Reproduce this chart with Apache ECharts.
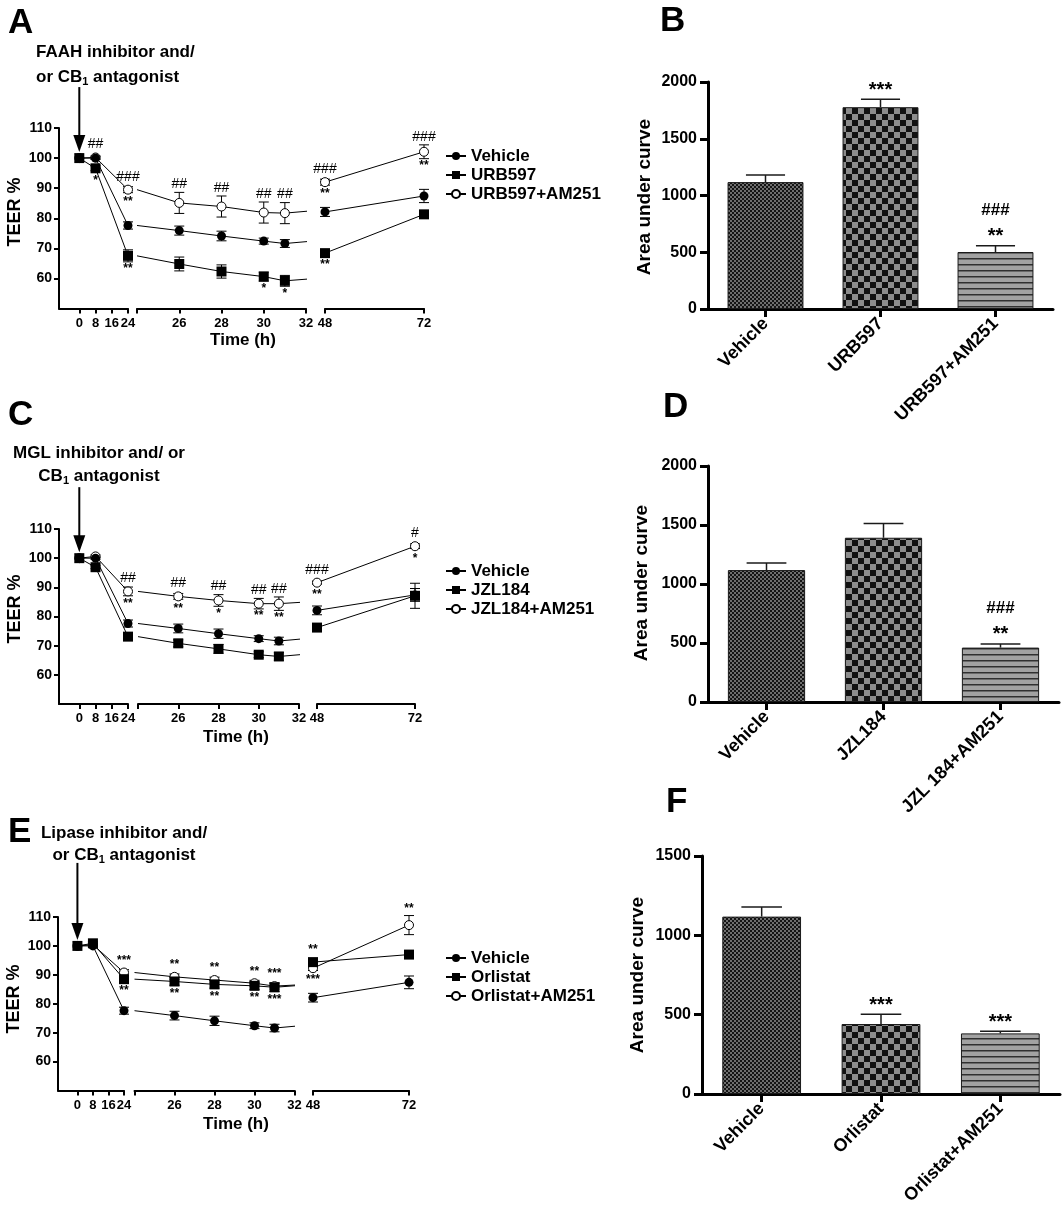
<!DOCTYPE html>
<html>
<head>
<meta charset="utf-8">
<script src="https://cdn.jsdelivr.net/npm/echarts@6.0.0/dist/echarts.min.js"></script>
<style>
html,body{margin:0;padding:0;background:#fff;}
#chart{width:1063px;height:1209px;}
</style>
</head>
<body>
<div id="chart"></div>
<script>
// ================= DATA =================
const hours = [0, 8, 24, 26, 28, 30, 31, 48, 72];

const vehicleTEER = [100, 100, 77.6, 75.9, 74.1, 72.4, 71.6, 82.1, 87.4];
const vehicleErr  = [0, 0.4, 1.2, 1.5, 1.6, 1.0, 1.3, 1.5, 2.2];

// Panel A
const namesA = ['Vehicle', 'URB597', 'URB597+AM251'];
const urb597TEER = [100, 96.6, 67.5, 64.8, 62.3, 60.6, 59.2, 68.4, 81.3];
const urb597Err  = [0, 0.8, 2.0, 2.3, 2.2, 1.5, 1.8, 0.6, 0.6];
const urb597Am251TEER = [100, 100.2, 89.5, 85.1, 83.9, 81.9, 81.7, 92.0, 102.1];
const urb597Am251Err  = [0, 0.5, 1.0, 3.5, 3.5, 3.5, 3.5, 1.0, 2.3];
const annotA = [
  [8, 2, 'up', '##'], [8, 1, 'down', '*'],
  [24, 2, 'up', '###'], [24, 2, 'down', '**'], [24, 1, 'down', '**'],
  [26, 2, 'up', '##'], [28, 2, 'up', '##'], [30, 2, 'up', '##'], [31, 2, 'up', '##'],
  [30, 1, 'down', '*'], [31, 1, 'down', '*'],
  [48, 2, 'up', '###'], [48, 2, 'down', '**'], [48, 1, 'down', '**'],
  [72, 2, 'up', '###'], [72, 2, 'down', '**']
];

// Panel C
const namesC = ['Vehicle', 'JZL184', 'JZL184+AM251'];
const jzl184TEER = [100, 96.9, 73.1, 70.8, 68.9, 66.9, 66.3, 76.2, 87.1];
const jzl184Err  = [0, 0.5, 1.0, 1.2, 1.5, 1.0, 1.3, 1.3, 4.3];
const jzl184Am251TEER = [100, 100.6, 88.6, 86.9, 85.5, 84.4, 84.4, 91.6, 104.1];
const jzl184Am251Err  = [0, 0.5, 1.5, 1.0, 2.0, 1.8, 2.3, 0.5, 0.8];
const annotC = [
  [24, 2, 'up', '##'], [24, 2, 'down', '**'],
  [26, 2, 'up', '##'], [26, 2, 'down', '**'],
  [28, 2, 'up', '##'], [28, 2, 'down', '*'],
  [30, 2, 'up', '##'], [30, 2, 'down', '**'],
  [31, 2, 'up', '##'], [31, 2, 'down', '**'],
  [48, 2, 'up', '###'], [48, 2, 'down', '**'],
  [72, 2, 'up', '#'], [72, 2, 'down', '*']
];

// Panel E
const namesE = ['Vehicle', 'Orlistat', 'Orlistat+AM251'];
const orlistatTEER = [100, 100.9, 88.5, 87.7, 86.7, 86.2, 85.7, 94.4, 97.0];
const orlistatErr  = [0, 0.5, 1.2, 1.3, 1.3, 1.3, 1.5, 1.0, 1.0];
const orlistatAm251TEER = [100, 100.4, 90.8, 89.3, 88.2, 87.1, 86.1, 92.3, 107.2];
const orlistatAm251Err  = [0, 0.5, 1.0, 1.0, 1.0, 1.0, 1.0, 0.8, 3.3];
const annotE = [
  [24, 2, 'up', '***'], [24, 1, 'down', '**'],
  [26, 2, 'up', '**'], [26, 1, 'down', '**'],
  [28, 2, 'up', '**'], [28, 1, 'down', '**'],
  [30, 2, 'up', '**'], [30, 1, 'down', '**'],
  [31, 2, 'up', '***'], [31, 1, 'down', '***'],
  [48, 1, 'up', '**'], [48, 2, 'down', '***'],
  [72, 2, 'up', '**']
];

// Tick values
const teerTicks = [60, 70, 80, 90, 100, 110];
const segTicks  = [[0, 8, 16, 24], [24, 26, 28, 30, 32], [48, 72]];
const segLabels = [[0, 8, 16, 24], [26, 28, 30, 32], [48, 72]];

// Bar panels (area under curve)
const catsB = ['Vehicle', 'URB597', 'URB597+AM251'];
const aucB = [1118, 1778, 502];
const aucErrB = [62, 70, 55];
const starsB = ['', '***', '**'];
const hashB = ['', '', '###'];

const catsD = ['Vehicle', 'JZL184', 'JZL 184+AM251'];
const aucD = [1118, 1392, 461];
const aucErrD = [60, 121, 31];
const starsD = ['', '', '**'];
const hashD = ['', '', '###'];

const catsF = ['Vehicle', 'Orlistat', 'Orlistat+AM251'];
const aucF = [1118, 441, 382];
const aucErrF = [60, 61, 13];
const starsF = ['', '***', '***'];
const hashF = ['', '', ''];

// ================= BUILD =================
const FONT = '"Liberation Sans", Arial, Helvetica, sans-serif';
const grids = [], xAxes = [], yAxes = [], series = [], legends = [], graphics = [];

function makePattern(kind) {
  const c = document.createElement('canvas');
  const g = c.getContext('2d');
  if (kind === 'fine') {
    c.width = 4; c.height = 4;
    g.fillStyle = '#6e6e6e'; g.fillRect(0, 0, 4, 4);
    g.fillStyle = '#141414'; g.fillRect(0, 0, 2, 2); g.fillRect(2, 2, 2, 2);
  } else if (kind === 'coarse') {
    c.width = 12; c.height = 12;
    g.fillStyle = '#8c8c8c'; g.fillRect(0, 0, 12, 12);
    g.fillStyle = '#111'; g.fillRect(0, 0, 6, 6); g.fillRect(6, 6, 6, 6);
  } else {
    c.width = 8; c.height = 6;
    g.fillStyle = '#a2a2a2'; g.fillRect(0, 0, 8, 6);
    g.fillStyle = '#303030'; g.fillRect(0, 0, 8, 1.5);
  }
  return { image: c, repeat: 'repeat' };
}
const PATTERNS = [makePattern('fine'), makePattern('coarse'), makePattern('stripe')];

const SEG_RANGE = [[-10, 24], [24, 32], [48, 72]];
const STYLE = [
  { symbol: 'circle', symbolSize: 9, itemStyle: { color: '#000' }, z: 4 },
  { symbol: 'rect', symbolSize: 10, itemStyle: { color: '#000' }, z: 5 },
  { symbol: 'circle', symbolSize: 9, itemStyle: { color: '#fff', borderColor: '#000', borderWidth: 1 }, z: 3 }
];
function segOf(h) { return h <= 24 ? 0 : (h < 48 ? 1 : 2); }

function textEl(text, x, y, size, extra) {
  return Object.assign({
    type: 'text', x: x, y: y, silent: true,
    style: {
      text: text, fill: '#000', fontSize: size, fontWeight: 'bold', fontFamily: FONT,
      align: 'left', verticalAlign: 'middle', textAlign: 'left', textVerticalAlign: 'middle'
    }
  }, extra || {});
}
function setAlign(el, a) { el.style.align = a; el.style.textAlign = a; return el; }

function lineErrRender(params, api) {
  const x = api.value(0);
  const lo = api.coord([x, api.value(1)]);
  const hi = api.coord([x, api.value(2)]);
  const w = 5, st = { stroke: '#000', lineWidth: 1 };
  return { type: 'group', children: [
    { type: 'line', shape: { x1: lo[0], y1: lo[1], x2: hi[0], y2: hi[1] }, style: st },
    { type: 'line', shape: { x1: lo[0] - w, y1: lo[1], x2: lo[0] + w, y2: lo[1] }, style: st },
    { type: 'line', shape: { x1: hi[0] - w, y1: hi[1], x2: hi[0] + w, y2: hi[1] }, style: st }
  ]};
}

function addLinePanel(P) {
  const base = grids.length;
  for (let s = 0; s < 3; s++) {
    const gi = base + s;
    grids.push({ left: P.lefts[s], width: P.widths[s], top: P.top, height: P.height, containLabel: false, outerBoundsMode: 'none' });
    xAxes.push({
      type: 'value', gridIndex: gi, min: SEG_RANGE[s][0], max: SEG_RANGE[s][1],
      axisLine: { show: true, onZero: false, lineStyle: { color: '#000', width: 2 } },
      axisTick: { show: true, customValues: segTicks[s], length: 5, lineStyle: { color: '#000', width: 2 } },
      axisLabel: { show: true, customValues: segLabels[s], color: '#000', fontWeight: 'bold', fontSize: 13, margin: 8, fontFamily: FONT },
      splitLine: { show: false }
    });
    if (s === 0) {
      yAxes.push({
        type: 'value', gridIndex: gi, min: 50, max: 110,
        axisLine: { show: true, onZero: false, lineStyle: { color: '#000', width: 2 } },
        axisTick: { show: true, customValues: teerTicks, length: 5, lineStyle: { color: '#000', width: 2 } },
        axisLabel: { show: true, customValues: teerTicks, color: '#000', fontWeight: 'bold', fontSize: 14, margin: 7, fontFamily: FONT },
        splitLine: { show: false }
      });
    } else {
      yAxes.push({ type: 'value', gridIndex: gi, min: 50, max: 110, show: false, splitLine: { show: false } });
    }
    P.values.forEach((vals, k) => {
      const data = [];
      hours.forEach((h, i) => {
        const v = vals[i];
        if (s === 0 && h <= 24) data.push([h, v]);
        else if (s === 1 && h >= 24 && h <= 48) data.push((h === 24 || h === 48) ? { value: [h, v], symbol: 'none' } : [h, v]);
        else if (s === 2 && h >= 48) data.push([h, v]);
      });
      series.push({
        type: 'line', name: P.names[k], xAxisIndex: gi, yAxisIndex: gi, data: data, clip: true,
        symbol: STYLE[k].symbol, symbolSize: STYLE[k].symbolSize, showSymbol: true,
        itemStyle: STYLE[k].itemStyle, lineStyle: { color: '#000', width: 1 },
        z: STYLE[k].z, silent: true, emphasis: { disabled: true }
      });
    });
    const errs = [];
    P.values.forEach((vals, k) => hours.forEach((h, i) => {
      const e = P.errs[k][i];
      if (segOf(h) === s && e > 0) errs.push([h, vals[i] - e, vals[i] + e]);
    }));
    series.push({ type: 'custom', xAxisIndex: gi, yAxisIndex: gi, data: errs, z: 2, silent: true, renderItem: lineErrRender });

    const items = P.annot.filter(a => segOf(a[0]) === s).map(a => {
      const i = hours.indexOf(a[0]);
      return { x: a[0], v: P.values[a[1]][i], e: P.errs[a[1]][i], dir: a[2], t: a[3] };
    });
    series.push({
      type: 'custom', xAxisIndex: gi, yAxisIndex: gi, z: 10, silent: true,
      data: items.map(it => [it.x, it.v]),
      renderItem: (params, api) => {
        const it = items[params.dataIndex];
        const pv = api.coord([it.x, it.v]);
        const up = it.dir === 'up';
        const pe = api.coord([it.x, up ? it.v + it.e : it.v - it.e]);
        const y = up ? Math.min(pe[1], pv[1] - 5) - 1 : Math.max(pe[1], pv[1] + 5) + 1;
        const isHash = it.t.indexOf('#') >= 0;
        return {
          type: 'text', x: pv[0], y: y,
          style: {
            text: it.t, fill: '#000', fontFamily: FONT,
            fontSize: isHash ? 14 : 12, fontWeight: isHash ? 'normal' : 'bold',
            align: 'center', textAlign: 'center',
            verticalAlign: up ? 'bottom' : 'top', textVerticalAlign: up ? 'bottom' : 'top'
          }
        };
      }
    });
  }
  // treatment arrow at time 0
  series.push({
    type: 'custom', xAxisIndex: base, yAxisIndex: base, data: [[0, 100]], z: 11, silent: true,
    renderItem: (params, api) => {
      const p = api.coord([api.value(0), api.value(1)]);
      const tip = p[1] - 6, top = p[1] - P.arrowLen, head = 17, hw = 6;
      return { type: 'group', children: [
        { type: 'line', shape: { x1: p[0], y1: top, x2: p[0], y2: tip - head + 2 }, style: { stroke: '#000', lineWidth: 2 } },
        { type: 'polygon', shape: { points: [[p[0] - hw, tip - head], [p[0] + hw, tip - head], [p[0], tip]] }, style: { fill: '#000' } }
      ]};
    }
  });
  legends.push({
    left: 440, top: P.legendTop, orient: 'vertical', itemWidth: 20, itemHeight: 10, itemGap: 2,
    selectedMode: false, data: P.names,
    textStyle: { fontSize: 17, fontWeight: 'bold', color: '#000', lineHeight: 17, fontFamily: FONT }
  });
  // axis titles
  graphics.push(setAlign(textEl('TEER %', P.teerX, P.teerY, 18, { rotation: Math.PI / 2 }), 'center'));
  graphics.push(setAlign(textEl('Time (h)', P.timeX, P.timeY, 17), 'center'));
}

function addBarPanel(P) {
  const gi = grids.length;
  grids.push({ left: P.left, top: P.top, width: P.width, height: P.height, containLabel: false, outerBoundsMode: 'none' });
  xAxes.push({
    type: 'category', gridIndex: gi, data: P.cats,
    axisLine: { show: true, onZero: false, lineStyle: { color: '#000', width: 3 } },
    axisTick: { show: true, alignWithLabel: true, length: 8, lineStyle: { color: '#000', width: 3 } },
    axisLabel: { rotate: 45, interval: 0, color: '#000', fontWeight: 'bold', fontSize: 18, margin: 12, fontFamily: FONT },
    splitLine: { show: false }
  });
  yAxes.push({
    type: 'value', gridIndex: gi, min: 0, max: P.max, interval: 500,
    axisLine: { show: true, lineStyle: { color: '#000', width: 3 } },
    axisTick: { show: true, length: 8, lineStyle: { color: '#000', width: 3 } },
    axisLabel: { color: '#000', fontWeight: 'bold', fontSize: 16, margin: 11, fontFamily: FONT, formatter: v => String(v) },
    splitLine: { show: false }
  });
  series.push({
    type: 'bar', xAxisIndex: gi, yAxisIndex: gi, barWidth: '66%', silent: true, z: 2,
    data: P.values.map((v, i) => ({ value: v, itemStyle: { color: PATTERNS[i], borderColor: '#1a1a1a', borderWidth: 1 } }))
  });
  series.push({
    type: 'custom', xAxisIndex: gi, yAxisIndex: gi, z: 3, silent: true,
    data: P.values.map((v, i) => [i, v, v + P.errs[i]]),
    renderItem: (params, api) => {
      const lo = api.coord([api.value(0), api.value(1)]);
      const hi = api.coord([api.value(0), api.value(2)]);
      const w = api.size([1, 0])[0] * 0.17;
      const st = { stroke: '#1a1a1a', lineWidth: 1.5 };
      return { type: 'group', children: [
        { type: 'line', shape: { x1: lo[0], y1: lo[1], x2: hi[0], y2: hi[1] }, style: st },
        { type: 'line', shape: { x1: hi[0] - w, y1: hi[1], x2: hi[0] + w, y2: hi[1] }, style: st }
      ]};
    }
  });
  series.push({
    type: 'custom', xAxisIndex: gi, yAxisIndex: gi, z: 4, silent: true,
    data: P.values.map((v, i) => [i, v + P.errs[i]]),
    renderItem: (params, api) => {
      const i = params.dataIndex;
      const p = api.coord([api.value(0), api.value(1)]);
      const kids = [];
      if (P.stars[i]) kids.push({ type: 'text', x: p[0], y: p[1] + 1, style: { text: P.stars[i], fill: '#000', fontFamily: FONT, fontSize: 20, fontWeight: 'bold', align: 'center', textAlign: 'center', verticalAlign: 'bottom', textVerticalAlign: 'bottom' } });
      if (P.hash[i]) kids.push({ type: 'text', x: p[0], y: p[1] - 27, style: { text: P.hash[i], fill: '#000', fontFamily: FONT, fontSize: 17, fontWeight: 'bold', align: 'center', textAlign: 'center', verticalAlign: 'bottom', textVerticalAlign: 'bottom' } });
      return { type: 'group', children: kids };
    }
  });
  graphics.push(setAlign(textEl('Area under curve', P.titleX, P.titleY, 19, { rotation: Math.PI / 2 }), 'center'));
}

// ---- Panels ----
addLinePanel({
  names: namesA, values: [vehicleTEER, urb597TEER, urb597Am251TEER], errs: [vehicleErr, urb597Err, urb597Am251Err],
  annot: annotA, top: 128, height: 180.5, lefts: [59, 137, 325], widths: [69, 169, 99],
  legendTop: 142.5, arrowLen: 71, teerX: 15, teerY: 212, timeX: 243, timeY: 340
});
addLinePanel({
  names: namesC, values: [vehicleTEER, jzl184TEER, jzl184Am251TEER], errs: [vehicleErr, jzl184Err, jzl184Am251Err],
  annot: annotC, top: 529, height: 175, lefts: [59, 138, 317], widths: [69, 161, 98],
  legendTop: 557.5, arrowLen: 71, teerX: 15, teerY: 609, timeX: 236, timeY: 737
});
addLinePanel({
  names: namesE, values: [vehicleTEER, orlistatTEER, orlistatAm251TEER], errs: [vehicleErr, orlistatErr, orlistatAm251Err],
  annot: annotE, top: 917, height: 173.5, lefts: [58, 134.5, 313], widths: [66, 160, 96],
  legendTop: 944.5, arrowLen: 83, teerX: 14, teerY: 999, timeX: 236, timeY: 1124
});
addBarPanel({ cats: catsB, values: aucB, errs: aucErrB, stars: starsB, hash: hashB, max: 2000,
  left: 708, top: 82, width: 345, height: 227, titleX: 645, titleY: 197 });
addBarPanel({ cats: catsD, values: aucD, errs: aucErrD, stars: starsD, hash: hashD, max: 2000,
  left: 708, top: 466, width: 351, height: 236, titleX: 642, titleY: 583 });
addBarPanel({ cats: catsF, values: aucF, errs: aucErrF, stars: starsF, hash: hashF, max: 1500,
  left: 702, top: 856, width: 358, height: 238, titleX: 638, titleY: 975 });

// ---- Panel letters ----
[['A', 8, 23], ['B', 660, 21], ['C', 8, 415], ['D', 663, 407], ['E', 8, 832], ['F', 666, 802]]
  .forEach(l => graphics.push(textEl(l[0], l[1], l[2], 35)));

// ---- Treatment headings ----
const RICH = {
  b: { fontSize: 17, fontWeight: 'bold', fontFamily: FONT, fill: '#000', color: '#000', lineHeight: 20 },
  s: { fontSize: 11, fontWeight: 'bold', fontFamily: FONT, fill: '#000', color: '#000', lineHeight: 8, verticalAlign: 'bottom' }
};
function heading(str, x, y, align) {
  const el = textEl(str, x, y, 17);
  el.style.rich = RICH;
  return setAlign(el, align);
}
graphics.push(heading('{b|FAAH inhibitor and/}', 36, 52, 'left'));
graphics.push(heading('{b|or CB}{s|1}{b| antagonist}', 36, 77, 'left'));
graphics.push(heading('{b|MGL inhibitor and/ or}', 99, 453, 'center'));
graphics.push(heading('{b|CB}{s|1}{b| antagonist}', 99, 476, 'center'));
graphics.push(heading('{b|Lipase inhibitor and/}', 124, 833, 'center'));
graphics.push(heading('{b|or CB}{s|1}{b| antagonist}', 124, 855, 'center'));

const chart = echarts.init(document.getElementById('chart'), null, { renderer: 'canvas' });
chart.setOption({
  animation: false,
  backgroundColor: '#fff',
  textStyle: { fontFamily: FONT },
  grid: grids, xAxis: xAxes, yAxis: yAxes, series: series, legend: legends,
  graphic: { elements: graphics }
});
</script>
</body>
</html>
